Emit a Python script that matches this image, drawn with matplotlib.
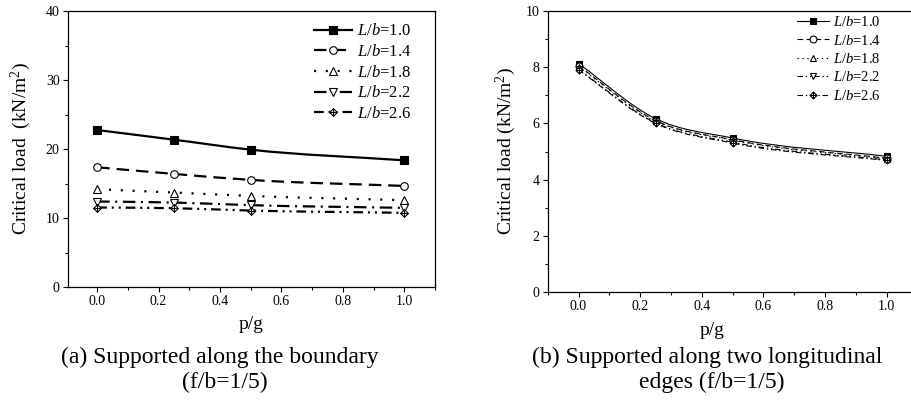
import numpy as np
import matplotlib
matplotlib.use('Agg')
import matplotlib.pyplot as plt
from matplotlib.path import Path
from matplotlib.patches import PathPatch
from matplotlib.lines import Line2D
from matplotlib.ticker import MultipleLocator

plt.rcParams['font.family'] = 'Liberation Serif'
plt.rcParams['mathtext.fontset'] = 'custom'
plt.rcParams['mathtext.rm'] = 'Liberation Serif'
plt.rcParams['mathtext.it'] = 'Liberation Serif:italic'
plt.rcParams['lines.scale_dashes'] = False

pg = [0.0, 0.25, 0.5, 1.0]
ratios = ['1.0', '1.4', '1.8', '2.2', '2.6']

# (a) supported along the boundary
load_a_10 = [22.75, 21.35, 19.9, 18.36]
load_a_14 = [17.35, 16.39, 15.52, 14.65]
load_a_18 = [14.17, 13.69, 13.2, 12.58]
load_a_22 = [12.39, 12.24, 11.86, 11.47]
load_a_26 = [11.52, 11.42, 11.08, 10.75]

# (b) supported along two longitudinal edges
load_b_10 = [8.13, 6.17, 5.48, 4.83]
load_b_14 = [8.05, 6.10, 5.42, 4.76]
load_b_18 = [8.02, 6.08, 5.40, 4.74]
load_b_22 = [7.92, 6.02, 5.33, 4.70]
load_b_26 = [7.90, 6.00, 5.30, 4.68]

# diamond with a cross inside (Origin style)
diamond_plus = Path(
    [(0, 1), (1, 0), (0, -1), (-1, 0), (0, 1), (0, 1), (0, -1), (-1, 0), (1, 0)],
    [Path.MOVETO, Path.LINETO, Path.LINETO, Path.LINETO, Path.CLOSEPOLY,
     Path.MOVETO, Path.LINETO, Path.MOVETO, Path.LINETO])

markers = ['s', 'o', '^', 'v', diamond_plus]
fills = ['black', 'white', 'white', 'white', 'white']


def smooth_curve(ax, x, y, **kw):
    # cubic hermite through the points, drawn as bezier segments
    x = np.asarray(x, float)
    y = np.asarray(y, float)
    m = np.gradient(y, x)
    verts = [(x[0], y[0])]
    codes = [Path.MOVETO]
    for i in range(len(x) - 1):
        h = x[i + 1] - x[i]
        verts += [(x[i] + h / 3, y[i] + m[i] * h / 3),
                  (x[i + 1] - h / 3, y[i + 1] - m[i + 1] * h / 3),
                  (x[i + 1], y[i + 1])]
        codes += [Path.CURVE4] * 3
    ax.add_patch(PathPatch(Path(verts, codes), fill=False, **kw))


def panel(ax, series, dashes, lw, ms, fs_leg, leg_anchor, spacing, hlen):
    handles = []
    for y, ds, mk, fc, r in zip(series, dashes, markers, fills, ratios):
        ls = '-' if ds is None else (0, ds)
        smooth_curve(ax, pg, y, edgecolor='black', linewidth=lw, linestyle=ls)
        ax.plot(pg, y, ls='none', marker=mk, ms=ms, mfc=fc, mec='black', mew=0.8)
        handles.append(Line2D([], [], color='black', lw=lw, ls=ls, marker=mk,
                              ms=ms, mfc=fc, mec='black', mew=0.8,
                              label='$L$/$b$=' + r))
    ax.legend(handles=handles, loc='upper left', bbox_to_anchor=leg_anchor,
              frameon=False, fontsize=fs_leg, borderpad=0, borderaxespad=0,
              labelspacing=spacing, handlelength=hlen, handletextpad=0.3)
    ax.xaxis.set_major_locator(MultipleLocator(0.2))
    ax.xaxis.set_minor_locator(MultipleLocator(0.1))
    ax.tick_params(which='major', direction='out', length=3.5, width=0.8,
                   labelsize=10, pad=2.5)
    ax.tick_params(which='minor', direction='out', length=2, width=0.8)
    for s in ax.spines.values():
        s.set_linewidth(0.9)


fig = plt.figure(figsize=(9.12, 4.16), dpi=100)
ax1 = fig.add_axes([68 / 912, 1 - 287 / 416, 367 / 912, 276 / 416])
ax2 = fig.add_axes([547.7 / 912, 1 - 292 / 416, 369.7 / 912, 281 / 416])

dash_a = [None, (9, 5), (1.5, 7), (9, 4, 1.5, 4), (7, 3.5, 1.5, 3.5, 1.5, 3.5)]
panel(ax1, [load_a_10, load_a_14, load_a_18, load_a_22, load_a_26], dash_a,
      1.6, 5.5, 12, (0.67, 0.955), 0.28, 2.3)
ax1.set_xlim(-0.095, 1.10)
ax1.set_ylim(0, 40)
ax1.yaxis.set_major_locator(MultipleLocator(10))
ax1.yaxis.set_minor_locator(MultipleLocator(5))
ax1.set_xlabel('p/g', fontsize=14)
ax1.xaxis.set_label_coords(0.5, -0.105)
ax1.set_ylabel('Critical load  (kN/m$^2$)', fontsize=14)
ax1.yaxis.set_label_coords(-0.095, 0.5)

dash_b = [None, (4, 2.5), (1, 2.5), (4, 2, 1, 2, 1, 2), (4, 2, 1, 2)]
panel(ax2, [load_b_10, load_b_14, load_b_18, load_b_22, load_b_26], dash_b,
      0.8, 5, 10.5, (0.674, 0.985), 0.3, 2.2)
ax2.set_xlim(-0.1, 1.1)
ax2.set_ylim(0, 10)
ax2.yaxis.set_major_locator(MultipleLocator(2))
ax2.yaxis.set_minor_locator(MultipleLocator(1))
ax2.set_xlabel('p/g', fontsize=14)
ax2.xaxis.set_label_coords(0.444, -0.105)
ax2.set_ylabel('Critical load (kN/m$^2$)', fontsize=14)
ax2.yaxis.set_label_coords(-0.08, 0.5)

fig.text(220 / 912, 1 - 357 / 416, '(a) Supported along the boundary',
         ha='center', va='center', fontsize=17)
fig.text(225 / 912, 1 - 382 / 416, '(f/b=1/5)', ha='center', va='center', fontsize=17)
fig.text(707 / 912, 1 - 357 / 416, '(b) Supported along two longitudinal',
         ha='center', va='center', fontsize=17)
fig.text(712 / 912, 1 - 382 / 416, 'edges (f/b=1/5)', ha='center', va='center', fontsize=17)

fig.savefig('out.png', dpi=100)
